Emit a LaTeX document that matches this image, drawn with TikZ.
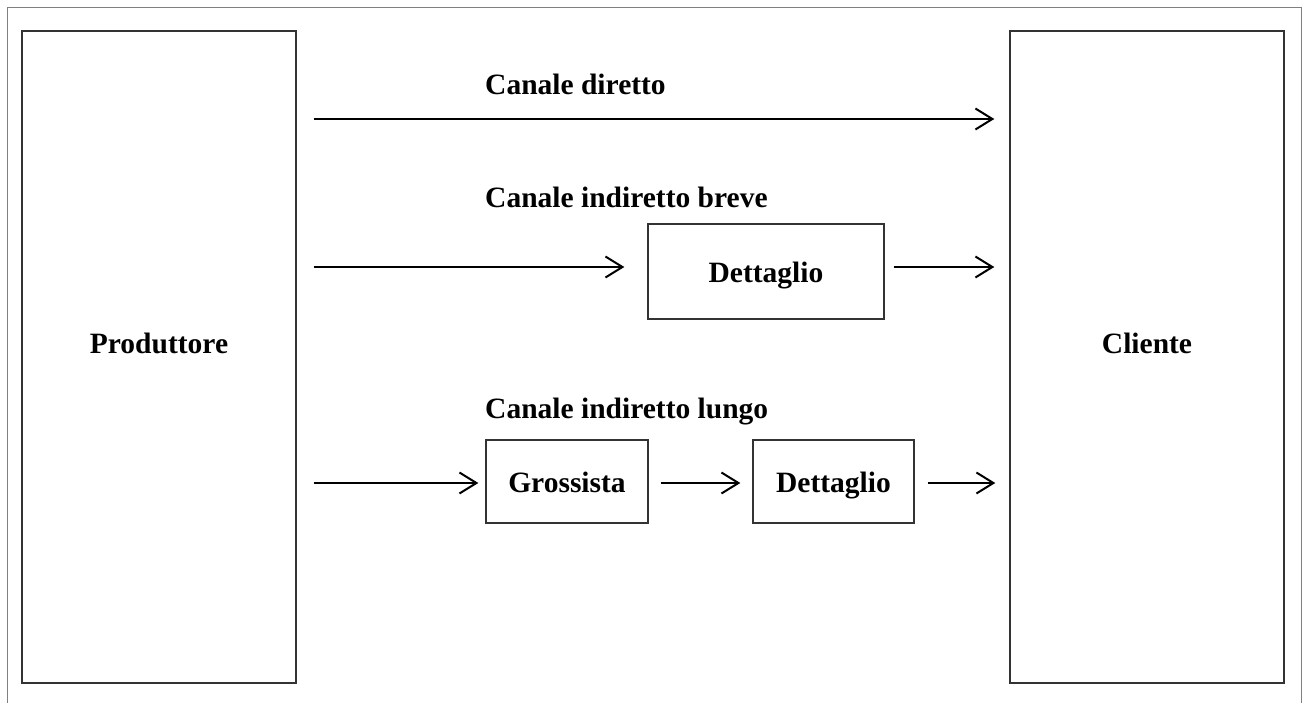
\documentclass[tikz,border=0pt]{standalone}
\usepackage{fontspec}
\setmainfont{Liberation Serif}
\usetikzlibrary{arrows.meta}
\tikzset{
  x=1pt, y=-1pt,
  every node/.style={font=\fontsize{29.5}{34}\selectfont\bfseries},
  party/.style={draw=black!80, line width=1.4pt, inner sep=0pt,
    minimum width=274pt, minimum height=652pt,
    text height=0pt, text depth=8pt},
  agent/.style={draw=black!80, line width=1.3pt, inner sep=0pt,
    text height=22pt, text depth=0pt},
  flow/.style={line width=2pt, -{Straight Barb[length=17pt,width=21pt,line width=2pt]}},
  channel/.style={anchor=base west, inner sep=0pt}
}
\begin{document}
\begin{tikzpicture}
  \useasboundingbox (0,0) rectangle (1306,703);
  % page frame, open at the bottom
  \begin{scope}
    \clip (0,0) rectangle (1306,703);
    \draw[black!50, line width=1pt] (7,8) rectangle (1301,712);
  \end{scope}

  % endpoints of the chain
  \node[party] (prod) at (159,357) {Produttore};
  \node[party] (cli)  at (1147,357) {Cliente};

  % intermediaries
  \node[agent, minimum width=236pt, minimum height=95pt] (det1) at (766,271.5) {Dettaglio};
  \node[agent, minimum width=162pt, minimum height=83pt] (gro)  at (567,481.5) {Grossista};
  \node[agent, minimum width=161pt, minimum height=83pt] (det2) at (833.5,481.5) {Dettaglio};

  % channel titles
  \node[channel] (t1) at (485,95)  {Canale diretto};
  \node[channel] (t2) at (485,208) {Canale indiretto breve};
  \node[channel] (t3) at (485,418) {Canale indiretto lungo};

  % channel rows
  \coordinate (r1) at (0,119);
  \coordinate (r2) at (0,267);
  \coordinate (r3) at (0,483);

  % direct channel
  \draw[flow, shorten <=17pt, shorten >=15pt] (prod.east |- r1) -- (cli.west |- r1);
  % short indirect channel
  \draw[flow, shorten <=17pt, shorten >=23pt] (prod.east |- r2) -- (det1.west |- r2);
  \draw[flow, shorten <=9pt,  shorten >=15pt] (det1.east |- r2) -- (cli.west |- r2);
  % long indirect channel
  \draw[flow, shorten <=17pt, shorten >=7pt]  (prod.east |- r3) -- (gro.west |- r3);
  \draw[flow, shorten <=12pt, shorten >=12pt] (gro.east |- r3) -- (det2.west |- r3);
  \draw[flow, shorten <=13pt, shorten >=14pt] (det2.east |- r3) -- (cli.west |- r3);
\end{tikzpicture}
\end{document}
